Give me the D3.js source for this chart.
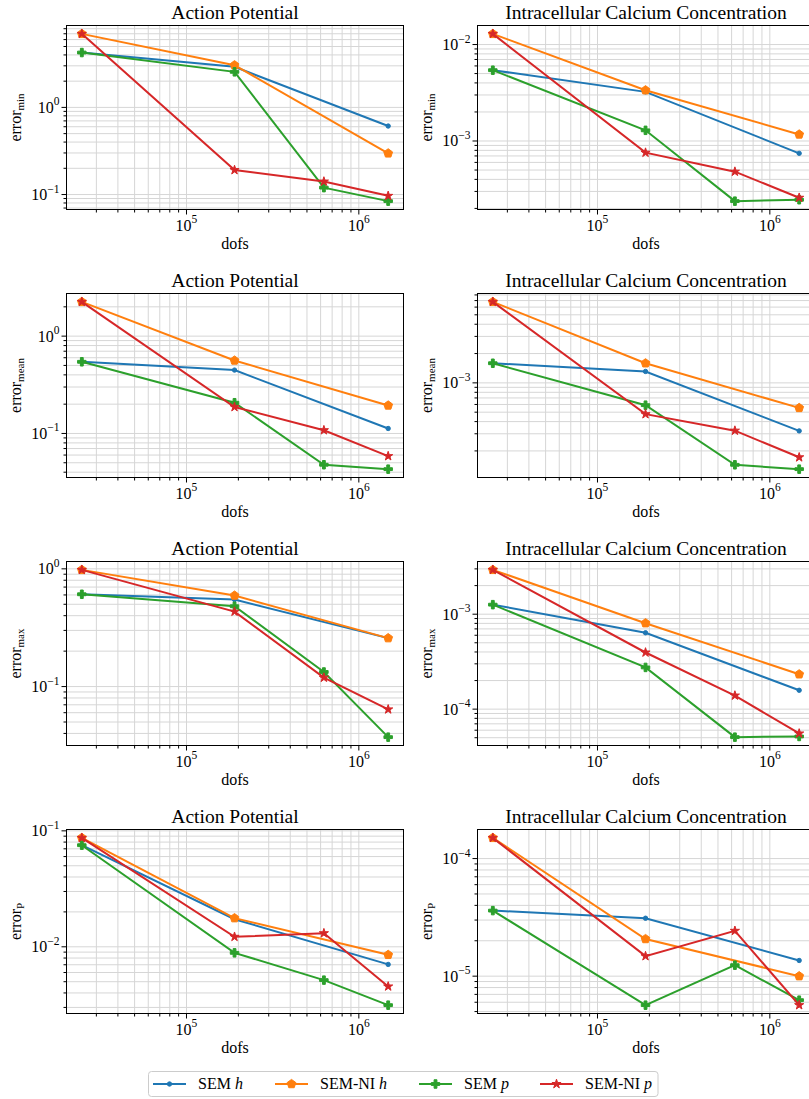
<!DOCTYPE html>
<html>
<head>
<meta charset="utf-8">
<script src="https://cdn.jsdelivr.net/npm/d3@7"></script>
<style>
  body { margin: 0; background: #fff; }
  svg { display: block; font-family: "Liberation Serif", "DejaVu Serif", serif; }
</style>
</head>
<body>
<svg id="chart" width="809" height="1099"></svg>
<script>
// dofs for h refinement (3 meshes) and p refinement (4 orders)
const dofsH = [24700, 190000, 1480000];
const dofsP = [24700, 190000, 627000, 1480000];

// series: SEM h, SEM-NI h, SEM p, SEM-NI p
const seriesNames = ["SEM", "SEM-NI", "SEM", "SEM-NI"];
const seriesVars = ["h", "h", "p", "p"];
const colors = ["#1f77b4", "#ff7f0e", "#2ca02c", "#d62728"];

const colTitles = ["Action Potential", "Intracellular Calcium Concentration"];
const errorNames = ["min", "mean", "max", "P"];

// Action potential errors
const apMin = [
    [4.26, 2.92, 0.611],
    [6.98, 3.05, 0.297],
    [4.26, 2.56, 0.120, 0.084],
    [6.98, 0.191, 0.141, 0.0966]
];
const apMean = [
    [0.545, 0.448, 0.1125],
    [2.25, 0.562, 0.194],
    [0.545, 0.207, 0.0477, 0.043],
    [2.25, 0.187, 0.108, 0.0585]
];
const apMax = [
    [0.608, 0.548, 0.258],
    [0.98, 0.593, 0.258],
    [0.608, 0.481, 0.133, 0.0372],
    [0.98, 0.433, 0.119, 0.064]
];
const apP = [
    [0.0752, 0.0173, 0.00705],
    [0.087, 0.01767, 0.00853],
    [0.0752, 0.00887, 0.00516, 0.00314],
    [0.087, 0.0122, 0.0131, 0.00455]
];

// Intracellular calcium errors
const icMin = [
    [5.42e-3, 3.23e-3, 7.45e-4],
    [1.29e-2, 3.36e-3, 1.17e-3],
    [5.42e-3, 1.29e-3, 2.38e-4, 2.46e-4],
    [1.29e-2, 7.57e-4, 4.81e-4, 2.58e-4]
];
const icMean = [
    [1.59e-3, 1.31e-3, 3.21e-4],
    [6.79e-3, 1.59e-3, 5.53e-4],
    [1.59e-3, 5.90e-4, 1.44e-4, 1.30e-4],
    [6.79e-3, 4.77e-4, 3.23e-4, 1.72e-4]
];
const icMax = [
    [1.26e-3, 6.37e-4, 1.58e-4],
    [2.93e-3, 8.04e-4, 2.33e-4],
    [1.26e-3, 2.75e-4, 5.07e-5, 5.15e-5],
    [2.93e-3, 3.95e-4, 1.39e-4, 5.54e-5]
];
const icP = [
    [3.61e-5, 3.11e-5, 1.36e-5],
    [1.50e-4, 2.07e-5, 1.00e-5],
    [3.61e-5, 5.67e-6, 1.24e-5, 6.25e-6],
    [1.50e-4, 1.48e-5, 2.43e-5, 5.67e-6]
];

const panels = [[apMin, icMin], [apMean, icMean], [apMax, icMax], [apP, icP]];

// layout
const axLeft = [66, 477];
const axWidth = 337;
const axHeight = 184;
const rowTop = 25;
const rowStep = 268;
const gridColor = "#d6d6d6";

const svg = d3.select("#chart");

// log axis limits with 5% margin like matplotlib
function padLog(values) {
    const lo = Math.log10(d3.min(values)), hi = Math.log10(d3.max(values));
    const m = (hi - lo) * 0.05;
    return [Math.pow(10, lo - m), Math.pow(10, hi + m)];
}

// all 1..9 x 10^k values inside domain
function logTicks(domain) {
    let ticks = [];
    const k0 = Math.floor(Math.log10(domain[0])), k1 = Math.ceil(Math.log10(domain[1]));
    for (let k = k0; k <= k1; k++) {
        for (let j = 1; j <= 9; j++) {
            const v = j * Math.pow(10, k);
            if (v >= domain[0] && v <= domain[1]) ticks.push({ v, major: j === 1, exp: k });
        }
    }
    return ticks;
}

function supLabel(sel, exp) {
    sel.text("10");
    sel.append("tspan")
        .attr("dy", -7.5)
        .attr("font-size", 11.5)
        .text(String(exp).replace("-", "\u2212"));
}

function markerPath(i) {
    if (i === 0) return d3.symbol(d3.symbolCircle, 15)();
    if (i === 1) {
        // pentagon
        const r = 4.6;
        let pts = d3.range(5).map(k => {
            const a = -Math.PI / 2 + k * 2 * Math.PI / 5;
            return [r * Math.cos(a), r * Math.sin(a)];
        });
        return "M" + pts.map(p => p.join(",")).join("L") + "Z";
    }
    if (i === 2) return d3.symbol(d3.symbolCross, 40)();
    return d3.symbol(d3.symbolStar, 26)();
}

function drawPanel(row, col) {
    const data = panels[row][col];
    const left = axLeft[col];
    const top = rowTop + row * rowStep;
    const g = svg.append("g").attr("transform", `translate(${left + 0.5},${top + 0.5})`);

    const xScale = d3.scaleLog().domain(padLog(dofsP)).range([0, axWidth]);
    const yScale = d3.scaleLog().domain(padLog(data.flat())).range([axHeight, 0]);

    // grid (major + minor)
    const xt = logTicks(xScale.domain());
    const yt = logTicks(yScale.domain());
    g.selectAll(".gx").data(xt).enter().append("line")
        .attr("x1", d => xScale(d.v)).attr("x2", d => xScale(d.v))
        .attr("y1", 0).attr("y2", axHeight)
        .attr("stroke", gridColor).attr("stroke-width", 1);
    g.selectAll(".gy").data(yt).enter().append("line")
        .attr("y1", d => yScale(d.v)).attr("y2", d => yScale(d.v))
        .attr("x1", 0).attr("x2", axWidth)
        .attr("stroke", gridColor).attr("stroke-width", 1);

    // lines and markers
    data.forEach((vals, i) => {
        const xs = vals.length === 3 ? dofsH : dofsP;
        const pts = vals.map((v, k) => [xScale(xs[k]), yScale(v)]);
        g.append("path")
            .attr("d", d3.line()(pts))
            .attr("fill", "none")
            .attr("stroke", colors[i])
            .attr("stroke-width", 2);
        g.selectAll(null).data(pts).enter().append("path")
            .attr("d", markerPath(i))
            .attr("transform", d => `translate(${d[0]},${d[1]})`)
            .attr("fill", colors[i])
            .attr("stroke", colors[i])
            .attr("stroke-width", 1);
    });

    // spines
    g.append("rect")
        .attr("width", axWidth).attr("height", axHeight)
        .attr("fill", "none").attr("stroke", "#000").attr("stroke-width", 1);

    // x ticks
    g.selectAll(".tx").data(xt).enter().append("line")
        .attr("x1", d => xScale(d.v)).attr("x2", d => xScale(d.v))
        .attr("y1", axHeight).attr("y2", d => axHeight + (d.major ? 5 : 3))
        .attr("stroke", "#000").attr("stroke-width", 1);
    g.selectAll(".lx").data(xt.filter(d => d.major)).enter().append("text")
        .attr("x", d => xScale(d.v))
        .attr("y", axHeight + 21)
        .attr("text-anchor", "middle")
        .attr("font-size", 16)
        .each(function(d) { supLabel(d3.select(this), d.exp); });

    // y ticks
    g.selectAll(".ty").data(yt).enter().append("line")
        .attr("y1", d => yScale(d.v)).attr("y2", d => yScale(d.v))
        .attr("x1", 0).attr("x2", d => d.major ? -5 : -3)
        .attr("stroke", "#000").attr("stroke-width", 1);
    g.selectAll(".ly").data(yt.filter(d => d.major)).enter().append("text")
        .attr("x", -7)
        .attr("y", d => yScale(d.v) + 5.5)
        .attr("text-anchor", "end")
        .attr("font-size", 16)
        .each(function(d) { supLabel(d3.select(this), d.exp); });

    // labels and title
    g.append("text")
        .attr("x", axWidth / 2).attr("y", -7)
        .attr("text-anchor", "middle")
        .attr("font-size", 19.5)
        .text(colTitles[col]);
    g.append("text")
        .attr("x", axWidth / 2).attr("y", axHeight + 39)
        .attr("text-anchor", "middle")
        .attr("font-size", 16)
        .text("dofs");
    const yl = g.append("text")
        .attr("transform", `translate(-46,${axHeight / 2}) rotate(-90)`)
        .attr("text-anchor", "middle")
        .attr("font-size", 16)
        .text("error");
    yl.append("tspan").attr("dy", 3.5).attr("font-size", 11).text(errorNames[row]);
}

for (let r = 0; r < 4; r++) {
    for (let c = 0; c < 2; c++) drawPanel(r, c);
}

// legend
const legend = svg.append("g");
legend.append("rect")
    .attr("x", 148.5).attr("y", 1071.5)
    .attr("width", 509.5).attr("height", 25)
    .attr("rx", 3)
    .attr("fill", "#fff").attr("stroke", "#cccccc").attr("stroke-width", 1);
const legendX = [153, 275, 419, 540];
legendX.forEach((x0, i) => {
    legend.append("line")
        .attr("x1", x0).attr("x2", x0 + 33)
        .attr("y1", 1084).attr("y2", 1084)
        .attr("stroke", colors[i]).attr("stroke-width", 2);
    legend.append("path")
        .attr("d", markerPath(i))
        .attr("transform", `translate(${x0 + 16.5},1084)`)
        .attr("fill", colors[i]).attr("stroke", colors[i]).attr("stroke-width", 1);
    const t = legend.append("text")
        .attr("x", x0 + 45).attr("y", 1089)
        .attr("font-size", 16)
        .text(seriesNames[i] + " ");
    t.append("tspan").attr("font-style", "italic").text(seriesVars[i]);
});
</script>
</body>
</html>
